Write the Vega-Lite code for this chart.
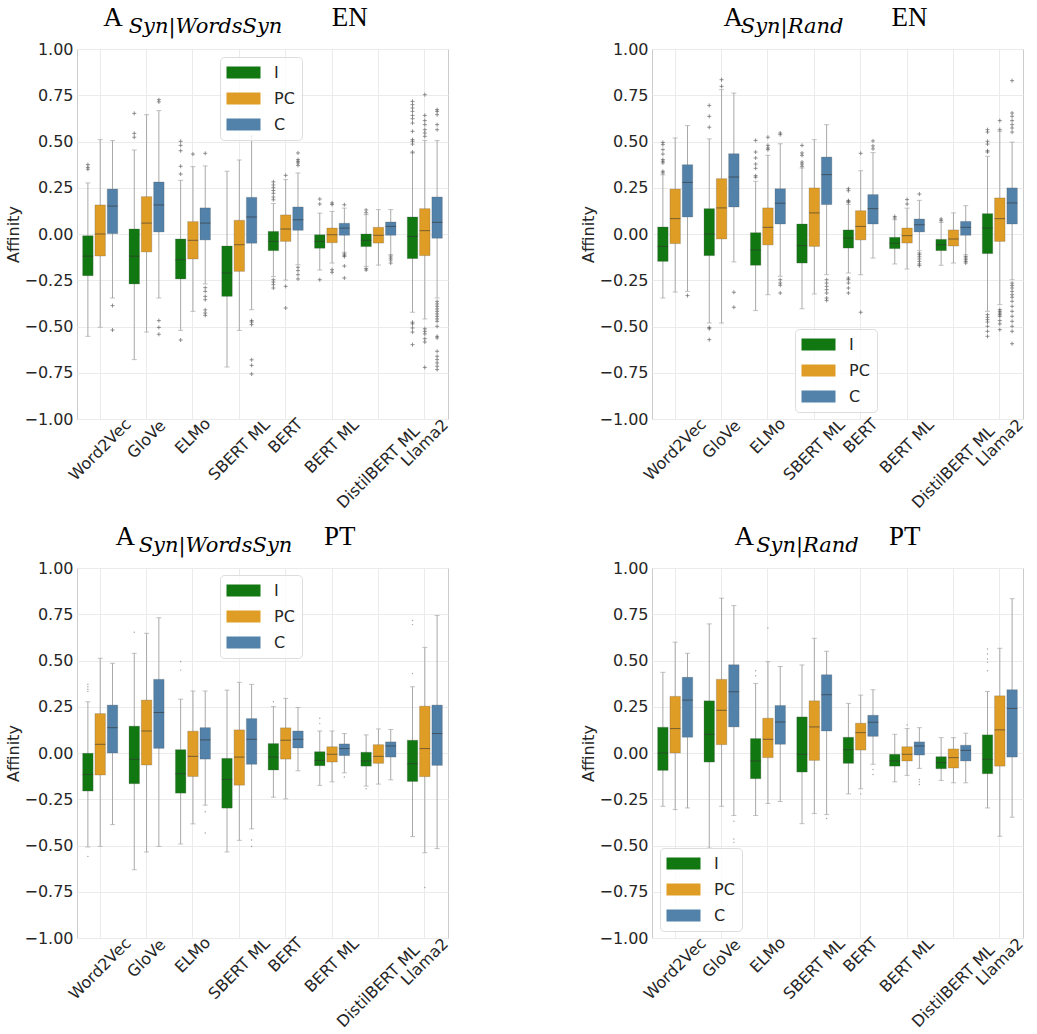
{
"$schema": "https://vega.github.io/schema/vega-lite/v6.json",
"padding": {"left": 5, "top": 3, "right": 0, "bottom": 0},
"background": "white",
"columns": 2,
"spacing": {"row": 10, "column": 128},
"resolve": {"scale": {"color": "independent"}, "legend": {"color": "independent"}},
"datasets": {
"boxes": [
{"panel":"EN_WS","model":"Word2Vec","group":"I","lo":-0.553,"q1":-0.225,"med":-0.12,"q3":-0.009,"hi":0.276},
{"panel":"EN_WS","model":"Word2Vec","group":"PC","lo":-0.504,"q1":-0.119,"med":0.0,"q3":0.157,"hi":0.51},
{"panel":"EN_WS","model":"Word2Vec","group":"C","lo":-0.346,"q1":0.002,"med":0.151,"q3":0.243,"hi":0.505},
{"panel":"EN_WS","model":"GloVe","group":"I","lo":-0.679,"q1":-0.27,"med":-0.12,"q3":0.027,"hi":0.454},
{"panel":"EN_WS","model":"GloVe","group":"PC","lo":-0.53,"q1":-0.097,"med":0.059,"q3":0.202,"hi":0.645},
{"panel":"EN_WS","model":"GloVe","group":"C","lo":-0.346,"q1":0.011,"med":0.157,"q3":0.281,"hi":0.667},
{"panel":"EN_WS","model":"ELMo","group":"I","lo":-0.521,"q1":-0.243,"med":-0.139,"q3":-0.027,"hi":0.29},
{"panel":"EN_WS","model":"ELMo","group":"PC","lo":-0.418,"q1":-0.135,"med":-0.034,"q3":0.067,"hi":0.364},
{"panel":"EN_WS","model":"ELMo","group":"C","lo":-0.27,"q1":-0.032,"med":0.059,"q3":0.141,"hi":0.368},
{"panel":"EN_WS","model":"SBERT ML","group":"I","lo":-0.719,"q1":-0.337,"med":-0.211,"q3":-0.065,"hi":0.339},
{"panel":"EN_WS","model":"SBERT ML","group":"PC","lo":-0.521,"q1":-0.202,"med":-0.058,"q3":0.074,"hi":0.4},
{"panel":"EN_WS","model":"SBERT ML","group":"C","lo":-0.409,"q1":-0.05,"med":0.092,"q3":0.198,"hi":0.53},
{"panel":"EN_WS","model":"BERT","group":"I","lo":-0.23,"q1":-0.09,"med":-0.04,"q3":0.014,"hi":0.165},
{"panel":"EN_WS","model":"BERT","group":"PC","lo":-0.249,"q1":-0.04,"med":0.027,"q3":0.103,"hi":0.294},
{"panel":"EN_WS","model":"BERT","group":"C","lo":-0.166,"q1":0.02,"med":0.077,"q3":0.146,"hi":0.33},
{"panel":"EN_WS","model":"BERT ML","group":"I","lo":-0.195,"q1":-0.077,"med":-0.04,"q3":-0.004,"hi":0.113},
{"panel":"EN_WS","model":"BERT ML","group":"PC","lo":-0.157,"q1":-0.047,"med":-0.004,"q3":0.032,"hi":0.122},
{"panel":"EN_WS","model":"BERT ML","group":"C","lo":-0.099,"q1":-0.007,"med":0.032,"q3":0.058,"hi":0.14},
{"panel":"EN_WS","model":"DistilBERT ML","group":"I","lo":-0.175,"q1":-0.068,"med":-0.034,"q3":0.0,"hi":0.105},
{"panel":"EN_WS","model":"DistilBERT ML","group":"PC","lo":-0.168,"q1":-0.049,"med":-0.007,"q3":0.036,"hi":0.132},
{"panel":"EN_WS","model":"DistilBERT ML","group":"C","lo":-0.112,"q1":-0.007,"med":0.041,"q3":0.065,"hi":0.132},
{"panel":"EN_WS","model":"Llama2","group":"I","lo":-0.423,"q1":-0.133,"med":-0.013,"q3":0.092,"hi":0.438},
{"panel":"EN_WS","model":"Llama2","group":"PC","lo":-0.459,"q1":-0.117,"med":0.018,"q3":0.137,"hi":0.506},
{"panel":"EN_WS","model":"Llama2","group":"C","lo":-0.346,"q1":-0.023,"med":0.063,"q3":0.2,"hi":0.505},

{"panel":"EN_R","model":"Word2Vec","group":"I","lo":-0.346,"q1":-0.148,"med":-0.067,"q3":0.038,"hi":0.32},
{"panel":"EN_R","model":"Word2Vec","group":"PC","lo":-0.314,"q1":-0.052,"med":0.083,"q3":0.243,"hi":0.519},
{"panel":"EN_R","model":"Word2Vec","group":"C","lo":-0.31,"q1":0.092,"med":0.279,"q3":0.375,"hi":0.586},
{"panel":"EN_R","model":"GloVe","group":"I","lo":-0.481,"q1":-0.117,"med":0.0,"q3":0.137,"hi":0.514},
{"panel":"EN_R","model":"GloVe","group":"PC","lo":-0.481,"q1":-0.027,"med":0.141,"q3":0.299,"hi":0.78},
{"panel":"EN_R","model":"GloVe","group":"C","lo":-0.151,"q1":0.146,"med":0.308,"q3":0.434,"hi":0.762},
{"panel":"EN_R","model":"ELMo","group":"I","lo":-0.414,"q1":-0.169,"med":-0.086,"q3":0.007,"hi":0.285},
{"panel":"EN_R","model":"ELMo","group":"PC","lo":-0.328,"q1":-0.059,"med":0.036,"q3":0.141,"hi":0.425},
{"panel":"EN_R","model":"ELMo","group":"C","lo":-0.229,"q1":0.054,"med":0.166,"q3":0.245,"hi":0.488},
{"panel":"EN_R","model":"SBERT ML","group":"I","lo":-0.404,"q1":-0.157,"med":-0.063,"q3":0.054,"hi":0.357},
{"panel":"EN_R","model":"SBERT ML","group":"PC","lo":-0.324,"q1":-0.067,"med":0.114,"q3":0.249,"hi":0.51},
{"panel":"EN_R","model":"SBERT ML","group":"C","lo":-0.22,"q1":0.159,"med":0.321,"q3":0.416,"hi":0.591},
{"panel":"EN_R","model":"BERT","group":"I","lo":-0.211,"q1":-0.076,"med":-0.022,"q3":0.022,"hi":0.16},
{"panel":"EN_R","model":"BERT","group":"PC","lo":-0.22,"q1":-0.032,"med":0.041,"q3":0.126,"hi":0.342},
{"panel":"EN_R","model":"BERT","group":"C","lo":-0.13,"q1":0.054,"med":0.137,"q3":0.213,"hi":0.44},
{"panel":"EN_R","model":"BERT ML","group":"I","lo":-0.162,"q1":-0.079,"med":-0.05,"q3":-0.018,"hi":0.077},
{"panel":"EN_R","model":"BERT ML","group":"PC","lo":-0.189,"q1":-0.049,"med":-0.009,"q3":0.032,"hi":0.14},
{"panel":"EN_R","model":"BERT ML","group":"C","lo":-0.09,"q1":0.011,"med":0.05,"q3":0.081,"hi":0.182},
{"panel":"EN_R","model":"DistilBERT ML","group":"I","lo":-0.169,"q1":-0.09,"med":-0.058,"q3":-0.029,"hi":0.063},
{"panel":"EN_R","model":"DistilBERT ML","group":"PC","lo":-0.157,"q1":-0.065,"med":-0.027,"q3":0.022,"hi":0.114},
{"panel":"EN_R","model":"DistilBERT ML","group":"C","lo":-0.112,"q1":-0.007,"med":0.036,"q3":0.068,"hi":0.153},
{"panel":"EN_R","model":"Llama2","group":"I","lo":-0.418,"q1":-0.106,"med":0.032,"q3":0.11,"hi":0.42},
{"panel":"EN_R","model":"Llama2","group":"PC","lo":-0.382,"q1":-0.04,"med":0.083,"q3":0.195,"hi":0.555},
{"panel":"EN_R","model":"Llama2","group":"C","lo":-0.247,"q1":0.054,"med":0.168,"q3":0.249,"hi":0.497},

{"panel":"PT_WS","model":"Word2Vec","group":"I","lo":-0.508,"q1":-0.206,"med":-0.116,"q3":-0.002,"hi":0.277},
{"panel":"PT_WS","model":"Word2Vec","group":"PC","lo":-0.505,"q1":-0.119,"med":0.047,"q3":0.213,"hi":0.512},
{"panel":"PT_WS","model":"Word2Vec","group":"C","lo":-0.387,"q1":0.0,"med":0.137,"q3":0.259,"hi":0.485},
{"panel":"PT_WS","model":"GloVe","group":"I","lo":-0.631,"q1":-0.166,"med":-0.034,"q3":0.145,"hi":0.539},
{"panel":"PT_WS","model":"GloVe","group":"PC","lo":-0.535,"q1":-0.065,"med":0.119,"q3":0.286,"hi":0.647},
{"panel":"PT_WS","model":"GloVe","group":"C","lo":-0.505,"q1":0.025,"med":0.219,"q3":0.398,"hi":0.731},
{"panel":"PT_WS","model":"ELMo","group":"I","lo":-0.492,"q1":-0.217,"med":-0.112,"q3":0.018,"hi":0.291},
{"panel":"PT_WS","model":"ELMo","group":"PC","lo":-0.383,"q1":-0.127,"med":-0.018,"q3":0.118,"hi":0.335},
{"panel":"PT_WS","model":"ELMo","group":"C","lo":-0.282,"q1":-0.033,"med":0.071,"q3":0.137,"hi":0.335},
{"panel":"PT_WS","model":"SBERT ML","group":"I","lo":-0.535,"q1":-0.298,"med":-0.143,"q3":-0.029,"hi":0.34},
{"panel":"PT_WS","model":"SBERT ML","group":"PC","lo":-0.472,"q1":-0.174,"med":-0.022,"q3":0.125,"hi":0.382},
{"panel":"PT_WS","model":"SBERT ML","group":"C","lo":-0.41,"q1":-0.061,"med":0.074,"q3":0.186,"hi":0.371},
{"panel":"PT_WS","model":"BERT","group":"I","lo":-0.239,"q1":-0.092,"med":-0.022,"q3":0.051,"hi":0.251},
{"panel":"PT_WS","model":"BERT","group":"PC","lo":-0.248,"q1":-0.033,"med":0.069,"q3":0.136,"hi":0.295},
{"panel":"PT_WS","model":"BERT","group":"C","lo":-0.096,"q1":0.027,"med":0.074,"q3":0.119,"hi":0.246},
{"panel":"PT_WS","model":"BERT ML","group":"I","lo":-0.175,"q1":-0.069,"med":-0.04,"q3":0.007,"hi":0.119},
{"panel":"PT_WS","model":"BERT ML","group":"PC","lo":-0.156,"q1":-0.049,"med":-0.007,"q3":0.034,"hi":0.119},
{"panel":"PT_WS","model":"BERT ML","group":"C","lo":-0.107,"q1":-0.014,"med":0.024,"q3":0.049,"hi":0.105},
{"panel":"PT_WS","model":"DistilBERT ML","group":"I","lo":-0.179,"q1":-0.071,"med":-0.043,"q3":0.004,"hi":0.098},
{"panel":"PT_WS","model":"DistilBERT ML","group":"PC","lo":-0.168,"q1":-0.056,"med":-0.018,"q3":0.045,"hi":0.13},
{"panel":"PT_WS","model":"DistilBERT ML","group":"C","lo":-0.145,"q1":-0.022,"med":0.038,"q3":0.06,"hi":0.127},
{"panel":"PT_WS","model":"Llama2","group":"I","lo":-0.452,"q1":-0.154,"med":-0.058,"q3":0.069,"hi":0.358},
{"panel":"PT_WS","model":"Llama2","group":"PC","lo":-0.539,"q1":-0.128,"med":0.024,"q3":0.253,"hi":0.571},
{"panel":"PT_WS","model":"Llama2","group":"C","lo":-0.517,"q1":-0.067,"med":0.105,"q3":0.259,"hi":0.743},

{"panel":"PT_R","model":"Word2Vec","group":"I","lo":-0.288,"q1":-0.094,"med":0.0,"q3":0.139,"hi":0.436},
{"panel":"PT_R","model":"Word2Vec","group":"PC","lo":-0.306,"q1":0.0,"med":0.132,"q3":0.306,"hi":0.599},
{"panel":"PT_R","model":"Word2Vec","group":"C","lo":-0.297,"q1":0.085,"med":0.286,"q3":0.409,"hi":0.539},
{"panel":"PT_R","model":"GloVe","group":"I","lo":-0.514,"q1":-0.049,"med":0.101,"q3":0.282,"hi":0.698},
{"panel":"PT_R","model":"GloVe","group":"PC","lo":-0.288,"q1":0.045,"med":0.231,"q3":0.398,"hi":0.837},
{"panel":"PT_R","model":"GloVe","group":"C","lo":-0.338,"q1":0.141,"med":0.331,"q3":0.477,"hi":0.797},
{"panel":"PT_R","model":"ELMo","group":"I","lo":-0.338,"q1":-0.139,"med":-0.043,"q3":0.078,"hi":0.376},
{"panel":"PT_R","model":"ELMo","group":"PC","lo":-0.273,"q1":-0.025,"med":0.074,"q3":0.188,"hi":0.494},
{"panel":"PT_R","model":"ELMo","group":"C","lo":-0.262,"q1":0.047,"med":0.168,"q3":0.257,"hi":0.468},
{"panel":"PT_R","model":"SBERT ML","group":"I","lo":-0.382,"q1":-0.103,"med":-0.007,"q3":0.195,"hi":0.476},
{"panel":"PT_R","model":"SBERT ML","group":"PC","lo":-0.327,"q1":-0.04,"med":0.141,"q3":0.282,"hi":0.62},
{"panel":"PT_R","model":"SBERT ML","group":"C","lo":-0.333,"q1":0.119,"med":0.315,"q3":0.423,"hi":0.55},
{"panel":"PT_R","model":"BERT","group":"I","lo":-0.221,"q1":-0.056,"med":0.018,"q3":0.085,"hi":0.268},
{"panel":"PT_R","model":"BERT","group":"PC","lo":-0.193,"q1":0.016,"med":0.11,"q3":0.161,"hi":0.313},
{"panel":"PT_R","model":"BERT","group":"C","lo":-0.061,"q1":0.09,"med":0.166,"q3":0.204,"hi":0.342},
{"panel":"PT_R","model":"BERT ML","group":"I","lo":-0.156,"q1":-0.071,"med":-0.043,"q3":-0.007,"hi":0.101},
{"panel":"PT_R","model":"BERT ML","group":"PC","lo":-0.121,"q1":-0.043,"med":-0.007,"q3":0.034,"hi":0.132},
{"panel":"PT_R","model":"BERT ML","group":"C","lo":-0.083,"q1":-0.011,"med":0.038,"q3":0.06,"hi":0.137},
{"panel":"PT_R","model":"DistilBERT ML","group":"I","lo":-0.148,"q1":-0.085,"med":-0.052,"q3":-0.02,"hi":0.083},
{"panel":"PT_R","model":"DistilBERT ML","group":"PC","lo":-0.161,"q1":-0.081,"med":-0.025,"q3":0.022,"hi":0.083},
{"panel":"PT_R","model":"DistilBERT ML","group":"C","lo":-0.161,"q1":-0.043,"med":0.014,"q3":0.042,"hi":0.107},
{"panel":"PT_R","model":"Llama2","group":"I","lo":-0.297,"q1":-0.112,"med":-0.034,"q3":0.098,"hi":0.333},
{"panel":"PT_R","model":"Llama2","group":"PC","lo":-0.45,"q1":-0.071,"med":0.125,"q3":0.309,"hi":0.566},
{"panel":"PT_R","model":"Llama2","group":"C","lo":-0.347,"q1":-0.022,"med":0.241,"q3":0.342,"hi":0.834}
],
"outliers": [
{"panel":"EN_WS","model":"Word2Vec","group":"I","value":0.375},{"panel":"EN_WS","model":"Word2Vec","group":"I","value":0.36},{"panel":"EN_WS","model":"Word2Vec","group":"I","value":0.35},
{"panel":"EN_WS","model":"Word2Vec","group":"C","value":-0.387},{"panel":"EN_WS","model":"Word2Vec","group":"C","value":-0.519},
{"panel":"EN_WS","model":"GloVe","group":"I","value":0.652},{"panel":"EN_WS","model":"GloVe","group":"I","value":0.544},{"panel":"EN_WS","model":"GloVe","group":"I","value":0.523},
{"panel":"EN_WS","model":"GloVe","group":"C","value":0.726},{"panel":"EN_WS","model":"GloVe","group":"C","value":0.714},{"panel":"EN_WS","model":"GloVe","group":"C","value":-0.468},{"panel":"EN_WS","model":"GloVe","group":"C","value":-0.505},{"panel":"EN_WS","model":"GloVe","group":"C","value":-0.542},
{"panel":"EN_WS","model":"ELMo","group":"I","value":0.501},{"panel":"EN_WS","model":"ELMo","group":"I","value":0.479},{"panel":"EN_WS","model":"ELMo","group":"I","value":0.45},{"panel":"EN_WS","model":"ELMo","group":"I","value":0.366},{"panel":"EN_WS","model":"ELMo","group":"I","value":0.324},{"panel":"EN_WS","model":"ELMo","group":"I","value":-0.573},
{"panel":"EN_WS","model":"ELMo","group":"PC","value":0.432},
{"panel":"EN_WS","model":"ELMo","group":"C","value":0.436},{"panel":"EN_WS","model":"ELMo","group":"C","value":-0.29},{"panel":"EN_WS","model":"ELMo","group":"C","value":-0.31},{"panel":"EN_WS","model":"ELMo","group":"C","value":-0.337},{"panel":"EN_WS","model":"ELMo","group":"C","value":-0.355},{"panel":"EN_WS","model":"ELMo","group":"C","value":-0.41},{"panel":"EN_WS","model":"ELMo","group":"C","value":-0.427},{"panel":"EN_WS","model":"ELMo","group":"C","value":-0.44},
{"panel":"EN_WS","model":"SBERT ML","group":"C","value":-0.468},{"panel":"EN_WS","model":"SBERT ML","group":"C","value":-0.476},{"panel":"EN_WS","model":"SBERT ML","group":"C","value":-0.49},{"panel":"EN_WS","model":"SBERT ML","group":"C","value":-0.68},{"panel":"EN_WS","model":"SBERT ML","group":"C","value":-0.71},{"panel":"EN_WS","model":"SBERT ML","group":"C","value":-0.757},
{"panel":"EN_WS","model":"BERT","group":"I","value":0.282},{"panel":"EN_WS","model":"BERT","group":"I","value":0.265},{"panel":"EN_WS","model":"BERT","group":"I","value":0.25},{"panel":"EN_WS","model":"BERT","group":"I","value":0.235},{"panel":"EN_WS","model":"BERT","group":"I","value":0.22},{"panel":"EN_WS","model":"BERT","group":"I","value":0.2},{"panel":"EN_WS","model":"BERT","group":"I","value":0.185},{"panel":"EN_WS","model":"BERT","group":"I","value":-0.247},{"panel":"EN_WS","model":"BERT","group":"I","value":-0.26},{"panel":"EN_WS","model":"BERT","group":"I","value":-0.274},{"panel":"EN_WS","model":"BERT","group":"I","value":-0.292},
{"panel":"EN_WS","model":"BERT","group":"PC","value":0.317},{"panel":"EN_WS","model":"BERT","group":"PC","value":-0.283},{"panel":"EN_WS","model":"BERT","group":"PC","value":-0.4},
{"panel":"EN_WS","model":"BERT","group":"C","value":0.438},{"panel":"EN_WS","model":"BERT","group":"C","value":0.402},{"panel":"EN_WS","model":"BERT","group":"C","value":0.393},{"panel":"EN_WS","model":"BERT","group":"C","value":0.384},{"panel":"EN_WS","model":"BERT","group":"C","value":0.371},{"panel":"EN_WS","model":"BERT","group":"C","value":-0.18},{"panel":"EN_WS","model":"BERT","group":"C","value":-0.198},{"panel":"EN_WS","model":"BERT","group":"C","value":-0.22},{"panel":"EN_WS","model":"BERT","group":"C","value":-0.243},
{"panel":"EN_WS","model":"BERT ML","group":"I","value":0.189},{"panel":"EN_WS","model":"BERT ML","group":"I","value":0.162},{"panel":"EN_WS","model":"BERT ML","group":"I","value":-0.247},
{"panel":"EN_WS","model":"BERT ML","group":"PC","value":0.168},{"panel":"EN_WS","model":"BERT ML","group":"PC","value":0.159},{"panel":"EN_WS","model":"BERT ML","group":"PC","value":-0.193},{"panel":"EN_WS","model":"BERT ML","group":"PC","value":-0.207},
{"panel":"EN_WS","model":"BERT ML","group":"C","value":0.158},{"panel":"EN_WS","model":"BERT ML","group":"C","value":-0.108},{"panel":"EN_WS","model":"BERT ML","group":"C","value":-0.115},{"panel":"EN_WS","model":"BERT ML","group":"C","value":-0.122},{"panel":"EN_WS","model":"BERT ML","group":"C","value":-0.173},{"panel":"EN_WS","model":"BERT ML","group":"C","value":-0.238},
{"panel":"EN_WS","model":"DistilBERT ML","group":"I","value":0.13},{"panel":"EN_WS","model":"DistilBERT ML","group":"I","value":0.115},{"panel":"EN_WS","model":"DistilBERT ML","group":"I","value":-0.187},{"panel":"EN_WS","model":"DistilBERT ML","group":"I","value":-0.195},
{"panel":"EN_WS","model":"DistilBERT ML","group":"C","value":-0.119},{"panel":"EN_WS","model":"DistilBERT ML","group":"C","value":-0.13},{"panel":"EN_WS","model":"DistilBERT ML","group":"C","value":-0.141},{"panel":"EN_WS","model":"DistilBERT ML","group":"C","value":-0.157},
{"panel":"EN_WS","model":"Llama2","group":"I","value":0.717},{"panel":"EN_WS","model":"Llama2","group":"I","value":0.699},{"panel":"EN_WS","model":"Llama2","group":"I","value":0.681},{"panel":"EN_WS","model":"Llama2","group":"I","value":0.663},{"panel":"EN_WS","model":"Llama2","group":"I","value":0.641},{"panel":"EN_WS","model":"Llama2","group":"I","value":0.623},{"panel":"EN_WS","model":"Llama2","group":"I","value":0.6},{"panel":"EN_WS","model":"Llama2","group":"I","value":0.555},{"panel":"EN_WS","model":"Llama2","group":"I","value":0.51},{"panel":"EN_WS","model":"Llama2","group":"I","value":0.501},{"panel":"EN_WS","model":"Llama2","group":"I","value":0.486},{"panel":"EN_WS","model":"Llama2","group":"I","value":0.443},{"panel":"EN_WS","model":"Llama2","group":"I","value":-0.477},{"panel":"EN_WS","model":"Llama2","group":"I","value":-0.486},{"panel":"EN_WS","model":"Llama2","group":"I","value":-0.508},{"panel":"EN_WS","model":"Llama2","group":"I","value":-0.53},{"panel":"EN_WS","model":"Llama2","group":"I","value":-0.598},
{"panel":"EN_WS","model":"Llama2","group":"PC","value":0.753},{"panel":"EN_WS","model":"Llama2","group":"PC","value":0.641},{"panel":"EN_WS","model":"Llama2","group":"PC","value":0.613},{"panel":"EN_WS","model":"Llama2","group":"PC","value":0.591},{"panel":"EN_WS","model":"Llama2","group":"PC","value":0.564},{"panel":"EN_WS","model":"Llama2","group":"PC","value":0.546},{"panel":"EN_WS","model":"Llama2","group":"PC","value":0.528},{"panel":"EN_WS","model":"Llama2","group":"PC","value":-0.512},{"panel":"EN_WS","model":"Llama2","group":"PC","value":-0.526},{"panel":"EN_WS","model":"Llama2","group":"PC","value":-0.54},{"panel":"EN_WS","model":"Llama2","group":"PC","value":-0.566},{"panel":"EN_WS","model":"Llama2","group":"PC","value":-0.584},{"panel":"EN_WS","model":"Llama2","group":"PC","value":-0.721},
{"panel":"EN_WS","model":"Llama2","group":"C","value":0.672},{"panel":"EN_WS","model":"Llama2","group":"C","value":0.663},{"panel":"EN_WS","model":"Llama2","group":"C","value":0.645},{"panel":"EN_WS","model":"Llama2","group":"C","value":0.591},{"panel":"EN_WS","model":"Llama2","group":"C","value":0.564},{"panel":"EN_WS","model":"Llama2","group":"C","value":-0.364},{"panel":"EN_WS","model":"Llama2","group":"C","value":-0.378},{"panel":"EN_WS","model":"Llama2","group":"C","value":-0.391},{"panel":"EN_WS","model":"Llama2","group":"C","value":-0.405},{"panel":"EN_WS","model":"Llama2","group":"C","value":-0.418},{"panel":"EN_WS","model":"Llama2","group":"C","value":-0.432},{"panel":"EN_WS","model":"Llama2","group":"C","value":-0.445},{"panel":"EN_WS","model":"Llama2","group":"C","value":-0.459},{"panel":"EN_WS","model":"Llama2","group":"C","value":-0.472},{"panel":"EN_WS","model":"Llama2","group":"C","value":-0.499},{"panel":"EN_WS","model":"Llama2","group":"C","value":-0.553},{"panel":"EN_WS","model":"Llama2","group":"C","value":-0.562},{"panel":"EN_WS","model":"Llama2","group":"C","value":-0.634},{"panel":"EN_WS","model":"Llama2","group":"C","value":-0.661},{"panel":"EN_WS","model":"Llama2","group":"C","value":-0.679},{"panel":"EN_WS","model":"Llama2","group":"C","value":-0.697},{"panel":"EN_WS","model":"Llama2","group":"C","value":-0.715},{"panel":"EN_WS","model":"Llama2","group":"C","value":-0.733},

{"panel":"EN_R","model":"Word2Vec","group":"I","value":0.495},{"panel":"EN_R","model":"Word2Vec","group":"I","value":0.483},{"panel":"EN_R","model":"Word2Vec","group":"I","value":0.456},{"panel":"EN_R","model":"Word2Vec","group":"I","value":0.432},{"panel":"EN_R","model":"Word2Vec","group":"I","value":0.402},{"panel":"EN_R","model":"Word2Vec","group":"I","value":0.393},{"panel":"EN_R","model":"Word2Vec","group":"I","value":0.384},{"panel":"EN_R","model":"Word2Vec","group":"I","value":0.339},{"panel":"EN_R","model":"Word2Vec","group":"I","value":0.33},
{"panel":"EN_R","model":"Word2Vec","group":"C","value":-0.333},
{"panel":"EN_R","model":"GloVe","group":"I","value":0.695},{"panel":"EN_R","model":"GloVe","group":"I","value":0.636},{"panel":"EN_R","model":"GloVe","group":"I","value":0.577},{"panel":"EN_R","model":"GloVe","group":"I","value":-0.505},{"panel":"EN_R","model":"GloVe","group":"I","value":-0.512},{"panel":"EN_R","model":"GloVe","group":"I","value":-0.571},
{"panel":"EN_R","model":"GloVe","group":"PC","value":0.834},{"panel":"EN_R","model":"GloVe","group":"PC","value":0.798},
{"panel":"EN_R","model":"GloVe","group":"C","value":-0.315},{"panel":"EN_R","model":"GloVe","group":"C","value":-0.396},
{"panel":"EN_R","model":"ELMo","group":"I","value":0.506},{"panel":"EN_R","model":"ELMo","group":"I","value":0.443},{"panel":"EN_R","model":"ELMo","group":"I","value":0.411},{"panel":"EN_R","model":"ELMo","group":"I","value":0.378},{"panel":"EN_R","model":"ELMo","group":"I","value":0.355},{"panel":"EN_R","model":"ELMo","group":"I","value":0.315},{"panel":"EN_R","model":"ELMo","group":"I","value":0.307},
{"panel":"EN_R","model":"ELMo","group":"PC","value":0.523},{"panel":"EN_R","model":"ELMo","group":"PC","value":0.479},{"panel":"EN_R","model":"ELMo","group":"PC","value":0.465},{"panel":"EN_R","model":"ELMo","group":"PC","value":0.456},
{"panel":"EN_R","model":"ELMo","group":"C","value":0.546},{"panel":"EN_R","model":"ELMo","group":"C","value":0.537},{"panel":"EN_R","model":"ELMo","group":"C","value":-0.247},{"panel":"EN_R","model":"ELMo","group":"C","value":-0.265},{"panel":"EN_R","model":"ELMo","group":"C","value":-0.277},{"panel":"EN_R","model":"ELMo","group":"C","value":-0.319},
{"panel":"EN_R","model":"SBERT ML","group":"I","value":0.479},{"panel":"EN_R","model":"SBERT ML","group":"I","value":0.438},{"panel":"EN_R","model":"SBERT ML","group":"I","value":0.425},{"panel":"EN_R","model":"SBERT ML","group":"I","value":0.389},{"panel":"EN_R","model":"SBERT ML","group":"I","value":0.378},{"panel":"EN_R","model":"SBERT ML","group":"I","value":0.366},
{"panel":"EN_R","model":"SBERT ML","group":"C","value":-0.247},{"panel":"EN_R","model":"SBERT ML","group":"C","value":-0.265},{"panel":"EN_R","model":"SBERT ML","group":"C","value":-0.283},{"panel":"EN_R","model":"SBERT ML","group":"C","value":-0.301},{"panel":"EN_R","model":"SBERT ML","group":"C","value":-0.319},{"panel":"EN_R","model":"SBERT ML","group":"C","value":-0.346},{"panel":"EN_R","model":"SBERT ML","group":"C","value":-0.359},
{"panel":"EN_R","model":"BERT","group":"I","value":0.245},{"panel":"EN_R","model":"BERT","group":"I","value":0.234},{"panel":"EN_R","model":"BERT","group":"I","value":0.18},{"panel":"EN_R","model":"BERT","group":"I","value":0.177},{"panel":"EN_R","model":"BERT","group":"I","value":0.171},{"panel":"EN_R","model":"BERT","group":"I","value":-0.238},{"panel":"EN_R","model":"BERT","group":"I","value":-0.247},{"panel":"EN_R","model":"BERT","group":"I","value":-0.265},{"panel":"EN_R","model":"BERT","group":"I","value":-0.292},{"panel":"EN_R","model":"BERT","group":"I","value":-0.319},
{"panel":"EN_R","model":"BERT","group":"PC","value":0.436},{"panel":"EN_R","model":"BERT","group":"PC","value":-0.423},
{"panel":"EN_R","model":"BERT","group":"C","value":0.503},{"panel":"EN_R","model":"BERT","group":"C","value":0.476},{"panel":"EN_R","model":"BERT","group":"C","value":0.46},
{"panel":"EN_R","model":"BERT ML","group":"I","value":0.095},{"panel":"EN_R","model":"BERT ML","group":"I","value":0.086},
{"panel":"EN_R","model":"BERT ML","group":"PC","value":0.186},{"panel":"EN_R","model":"BERT ML","group":"PC","value":0.162},
{"panel":"EN_R","model":"BERT ML","group":"C","value":0.216},{"panel":"EN_R","model":"BERT ML","group":"C","value":-0.103},{"panel":"EN_R","model":"BERT ML","group":"C","value":-0.112},{"panel":"EN_R","model":"BERT ML","group":"C","value":-0.123},{"panel":"EN_R","model":"BERT ML","group":"C","value":-0.135},{"panel":"EN_R","model":"BERT ML","group":"C","value":-0.148},{"panel":"EN_R","model":"BERT ML","group":"C","value":-0.162},{"panel":"EN_R","model":"BERT ML","group":"C","value":-0.171},
{"panel":"EN_R","model":"DistilBERT ML","group":"I","value":0.081},{"panel":"EN_R","model":"DistilBERT ML","group":"I","value":0.072},
{"panel":"EN_R","model":"DistilBERT ML","group":"C","value":-0.121},{"panel":"EN_R","model":"DistilBERT ML","group":"C","value":-0.13},{"panel":"EN_R","model":"DistilBERT ML","group":"C","value":-0.139},{"panel":"EN_R","model":"DistilBERT ML","group":"C","value":-0.148},{"panel":"EN_R","model":"DistilBERT ML","group":"C","value":-0.157},
{"panel":"EN_R","model":"Llama2","group":"I","value":0.564},{"panel":"EN_R","model":"Llama2","group":"I","value":0.551},{"panel":"EN_R","model":"Llama2","group":"I","value":0.501},{"panel":"EN_R","model":"Llama2","group":"I","value":0.486},{"panel":"EN_R","model":"Llama2","group":"I","value":0.45},{"panel":"EN_R","model":"Llama2","group":"I","value":0.443},{"panel":"EN_R","model":"Llama2","group":"I","value":-0.436},{"panel":"EN_R","model":"Llama2","group":"I","value":-0.45},{"panel":"EN_R","model":"Llama2","group":"I","value":-0.463},{"panel":"EN_R","model":"Llama2","group":"I","value":-0.476},{"panel":"EN_R","model":"Llama2","group":"I","value":-0.499},{"panel":"EN_R","model":"Llama2","group":"I","value":-0.526},{"panel":"EN_R","model":"Llama2","group":"I","value":-0.553},
{"panel":"EN_R","model":"Llama2","group":"PC","value":0.613},{"panel":"EN_R","model":"Llama2","group":"PC","value":0.564},{"panel":"EN_R","model":"Llama2","group":"PC","value":-0.409},{"panel":"EN_R","model":"Llama2","group":"PC","value":-0.418},{"panel":"EN_R","model":"Llama2","group":"PC","value":-0.427},{"panel":"EN_R","model":"Llama2","group":"PC","value":-0.436},{"panel":"EN_R","model":"Llama2","group":"PC","value":-0.445},{"panel":"EN_R","model":"Llama2","group":"PC","value":-0.468},{"panel":"EN_R","model":"Llama2","group":"PC","value":-0.486},{"panel":"EN_R","model":"Llama2","group":"PC","value":-0.517},
{"panel":"EN_R","model":"Llama2","group":"C","value":0.829},{"panel":"EN_R","model":"Llama2","group":"C","value":0.654},{"panel":"EN_R","model":"Llama2","group":"C","value":0.636},{"panel":"EN_R","model":"Llama2","group":"C","value":0.613},{"panel":"EN_R","model":"Llama2","group":"C","value":0.591},{"panel":"EN_R","model":"Llama2","group":"C","value":0.573},{"panel":"EN_R","model":"Llama2","group":"C","value":0.551},{"panel":"EN_R","model":"Llama2","group":"C","value":-0.265},{"panel":"EN_R","model":"Llama2","group":"C","value":-0.278},{"panel":"EN_R","model":"Llama2","group":"C","value":-0.292},{"panel":"EN_R","model":"Llama2","group":"C","value":-0.31},{"panel":"EN_R","model":"Llama2","group":"C","value":-0.328},{"panel":"EN_R","model":"Llama2","group":"C","value":-0.342},{"panel":"EN_R","model":"Llama2","group":"C","value":-0.364},{"panel":"EN_R","model":"Llama2","group":"C","value":-0.391},{"panel":"EN_R","model":"Llama2","group":"C","value":-0.418},{"panel":"EN_R","model":"Llama2","group":"C","value":-0.445},{"panel":"EN_R","model":"Llama2","group":"C","value":-0.472},{"panel":"EN_R","model":"Llama2","group":"C","value":-0.499},{"panel":"EN_R","model":"Llama2","group":"C","value":-0.526},{"panel":"EN_R","model":"Llama2","group":"C","value":-0.593},

{"panel":"PT_WS","model":"Word2Vec","group":"I","value":0.372},{"panel":"PT_WS","model":"Word2Vec","group":"I","value":0.358},{"panel":"PT_WS","model":"Word2Vec","group":"I","value":0.345},{"panel":"PT_WS","model":"Word2Vec","group":"I","value":0.333},{"panel":"PT_WS","model":"Word2Vec","group":"I","value":-0.559},
{"panel":"PT_WS","model":"GloVe","group":"I","value":0.653},
{"panel":"PT_WS","model":"ELMo","group":"I","value":0.495},{"panel":"PT_WS","model":"ELMo","group":"I","value":0.448},
{"panel":"PT_WS","model":"ELMo","group":"C","value":-0.318},{"panel":"PT_WS","model":"ELMo","group":"C","value":-0.432},
{"panel":"PT_WS","model":"SBERT ML","group":"C","value":-0.47},{"panel":"PT_WS","model":"SBERT ML","group":"C","value":-0.505},
{"panel":"PT_WS","model":"BERT","group":"I","value":0.277},
{"panel":"PT_WS","model":"BERT ML","group":"I","value":0.188},{"panel":"PT_WS","model":"BERT ML","group":"I","value":0.159},
{"panel":"PT_WS","model":"BERT ML","group":"C","value":-0.13},
{"panel":"PT_WS","model":"DistilBERT ML","group":"I","value":-0.193},
{"panel":"PT_WS","model":"Llama2","group":"I","value":0.716},{"panel":"PT_WS","model":"Llama2","group":"I","value":0.694},{"panel":"PT_WS","model":"Llama2","group":"I","value":0.43},
{"panel":"PT_WS","model":"Llama2","group":"PC","value":-0.727},

{"panel":"PT_R","model":"GloVe","group":"C","value":-0.369},{"panel":"PT_R","model":"GloVe","group":"C","value":-0.465},{"panel":"PT_R","model":"GloVe","group":"C","value":-0.483},
{"panel":"PT_R","model":"ELMo","group":"I","value":0.445},{"panel":"PT_R","model":"ELMo","group":"I","value":0.418},
{"panel":"PT_R","model":"ELMo","group":"PC","value":0.676},
{"panel":"PT_R","model":"SBERT ML","group":"C","value":-0.354},
{"panel":"PT_R","model":"BERT","group":"PC","value":-0.221},
{"panel":"PT_R","model":"BERT","group":"C","value":-0.089},{"panel":"PT_R","model":"BERT","group":"C","value":-0.116},
{"panel":"PT_R","model":"BERT ML","group":"PC","value":0.152},
{"panel":"PT_R","model":"BERT ML","group":"C","value":-0.143},{"panel":"PT_R","model":"BERT ML","group":"C","value":-0.156},{"panel":"PT_R","model":"BERT ML","group":"C","value":-0.17},
{"panel":"PT_R","model":"Llama2","group":"I","value":0.562},{"panel":"PT_R","model":"Llama2","group":"I","value":0.535},{"panel":"PT_R","model":"Llama2","group":"I","value":0.508},{"panel":"PT_R","model":"Llama2","group":"I","value":0.49},{"panel":"PT_R","model":"Llama2","group":"I","value":0.445}
]
},
"concat": [
{
 "width": 371, "height": 370,
 "title": {"text": "A\u00a0\u00a0\u00a0\u00a0\u00a0\u00a0\u00a0\u00a0\u00a0\u00a0\u00a0\u00a0\u00a0\u00a0\u00a0\u00a0\u00a0\u00a0\u00a0\u00a0\u00a0\u00a0\u00a0\u00a0\u00a0\u00a0\u00a0\u00a0\u00a0\u00a0\u00a0EN", "subtitle": "Syn|WordsSyn\u00a0\u00a0\u00a0\u00a0\u00a0\u00a0\u00a0\u00a0\u00a0\u200b", "dx": -27},
 "encoding": {
  "x": {"field": "model", "type": "nominal", "scale": {"domain": ["Word2Vec","GloVe","ELMo","SBERT ML","BERT","BERT ML","DistilBERT ML","Llama2"], "paddingInner": 0, "paddingOuter": 0}, "axis": {"title": null, "labelAngle": -45, "labelAlign": "center", "labelBaseline": "middle", "labelOverlap": false, "grid": true, "labelPadding": {"expr": "-3 + 0.354*(length(datum.label)*9.8 + 16)"}}},
  "xOffset": {"field": "group", "type": "nominal", "scale": {"domain": ["I","PC","C"], "paddingInner": 0.15, "paddingOuter": 0.46}}
 },
 "layer": [
  {"data": {"name": "boxes"}, "transform": [{"filter": "datum.panel == 'EN_WS'"}], "mark": {"type": "rule", "color": "#a8a8a8", "strokeWidth": 1},
   "encoding": {"y": {"field": "lo", "type": "quantitative", "scale": {"domain": [-1, 1], "nice": false, "zero": false}, "axis": {"title": "Affinity", "values": [-1,-0.75,-0.5,-0.25,0,0.25,0.5,0.75,1], "format": ".2f"}}, "y2": {"field": "hi"}}},
  {"data": {"name": "boxes"}, "transform": [{"filter": "datum.panel == 'EN_WS'"}], "mark": {"type": "tick", "color": "#a8a8a8", "size": 5, "thickness": 1},
   "encoding": {"y": {"field": "lo", "type": "quantitative"}}},
  {"data": {"name": "boxes"}, "transform": [{"filter": "datum.panel == 'EN_WS'"}], "mark": {"type": "tick", "color": "#a8a8a8", "size": 5, "thickness": 1},
   "encoding": {"y": {"field": "hi", "type": "quantitative"}}},
  {"data": {"name": "boxes"}, "transform": [{"filter": "datum.panel == 'EN_WS'"}], "mark": {"type": "bar", "stroke": "#555555", "strokeWidth": 0.5, "strokeOpacity": 0.5},
   "encoding": {"y": {"field": "q1", "type": "quantitative"}, "y2": {"field": "q3"},
    "color": {"field": "group", "type": "nominal", "scale": {"domain": ["I","PC","C"], "range": ["#117711","#E09D25","#5282AA"]}, "legend": {"orient": "none", "legendX": 143, "legendY": 8, "title": null, "symbolType": "M-2,-0.7H2V0.7H-2Z", "symbolSize": 289}}}},
  {"data": {"name": "boxes"}, "transform": [{"filter": "datum.panel == 'EN_WS'"}], "mark": {"type": "tick", "color": "#333333", "opacity": 0.6, "size": 10.5, "thickness": 1},
   "encoding": {"y": {"field": "med", "type": "quantitative"}}},
  {"data": {"name": "outliers"}, "transform": [{"filter": "datum.panel == 'EN_WS'"}], "mark": {"type": "point", "shape": "M-1,0H1M0,-1V1", "size": 16, "filled": false, "stroke": "#555555", "strokeWidth": 0.8, "opacity": 0.8},
   "encoding": {"y": {"field": "value", "type": "quantitative"}}}
 ]
},
{
 "width": 371, "height": 370,
 "title": {"text": "A\u00a0\u00a0\u00a0\u00a0\u00a0\u00a0\u00a0\u00a0\u00a0\u00a0\u00a0\u00a0\u00a0\u00a0\u00a0\u00a0\u00a0\u00a0\u00a0\u00a0\u00a0\u00a0EN", "subtitle": "Syn|Rand\u00a0\u00a0\u00a0\u00a0\u00a0\u00a0\u00a0\u00a0\u00a0\u00a0\u200b", "dx": -12},
 "encoding": {
  "x": {"field": "model", "type": "nominal", "scale": {"domain": ["Word2Vec","GloVe","ELMo","SBERT ML","BERT","BERT ML","DistilBERT ML","Llama2"], "paddingInner": 0, "paddingOuter": 0}, "axis": {"title": null, "labelAngle": -45, "labelAlign": "center", "labelBaseline": "middle", "labelOverlap": false, "grid": true, "labelPadding": {"expr": "-3 + 0.354*(length(datum.label)*9.8 + 16)"}}},
  "xOffset": {"field": "group", "type": "nominal", "scale": {"domain": ["I","PC","C"], "paddingInner": 0.15, "paddingOuter": 0.46}}
 },
 "layer": [
  {"data": {"name": "boxes"}, "transform": [{"filter": "datum.panel == 'EN_R'"}], "mark": {"type": "rule", "color": "#a8a8a8", "strokeWidth": 1},
   "encoding": {"y": {"field": "lo", "type": "quantitative", "scale": {"domain": [-1, 1], "nice": false, "zero": false}, "axis": {"title": "Affinity", "values": [-1,-0.75,-0.5,-0.25,0,0.25,0.5,0.75,1], "format": ".2f"}}, "y2": {"field": "hi"}}},
  {"data": {"name": "boxes"}, "transform": [{"filter": "datum.panel == 'EN_R'"}], "mark": {"type": "tick", "color": "#a8a8a8", "size": 5, "thickness": 1},
   "encoding": {"y": {"field": "lo", "type": "quantitative"}}},
  {"data": {"name": "boxes"}, "transform": [{"filter": "datum.panel == 'EN_R'"}], "mark": {"type": "tick", "color": "#a8a8a8", "size": 5, "thickness": 1},
   "encoding": {"y": {"field": "hi", "type": "quantitative"}}},
  {"data": {"name": "boxes"}, "transform": [{"filter": "datum.panel == 'EN_R'"}], "mark": {"type": "bar", "stroke": "#555555", "strokeWidth": 0.5, "strokeOpacity": 0.5},
   "encoding": {"y": {"field": "q1", "type": "quantitative"}, "y2": {"field": "q3"},
    "color": {"field": "group", "type": "nominal", "scale": {"domain": ["I","PC","C"], "range": ["#117711","#E09D25","#5282AA"]}, "legend": {"orient": "none", "legendX": 143, "legendY": 280, "title": null, "symbolType": "M-2,-0.7H2V0.7H-2Z", "symbolSize": 289}}}},
  {"data": {"name": "boxes"}, "transform": [{"filter": "datum.panel == 'EN_R'"}], "mark": {"type": "tick", "color": "#333333", "opacity": 0.6, "size": 10.5, "thickness": 1},
   "encoding": {"y": {"field": "med", "type": "quantitative"}}},
  {"data": {"name": "outliers"}, "transform": [{"filter": "datum.panel == 'EN_R'"}], "mark": {"type": "point", "shape": "M-1,0H1M0,-1V1", "size": 16, "filled": false, "stroke": "#555555", "strokeWidth": 0.8, "opacity": 0.8},
   "encoding": {"y": {"field": "value", "type": "quantitative"}}}
 ]
},
{
 "width": 371, "height": 370,
 "title": {"text": "A\u00a0\u00a0\u00a0\u00a0\u00a0\u00a0\u00a0\u00a0\u00a0\u00a0\u00a0\u00a0\u00a0\u00a0\u00a0\u00a0\u00a0\u00a0\u00a0\u00a0\u00a0\u00a0\u00a0\u00a0\u00a0\u00a0\u00a0\u00a0PT", "subtitle": "Syn|WordsSyn\u00a0\u00a0\u00a0\u00a0\u00a0\u00a0\u200b", "dx": -27},
 "encoding": {
  "x": {"field": "model", "type": "nominal", "scale": {"domain": ["Word2Vec","GloVe","ELMo","SBERT ML","BERT","BERT ML","DistilBERT ML","Llama2"], "paddingInner": 0, "paddingOuter": 0}, "axis": {"title": null, "labelAngle": -45, "labelAlign": "center", "labelBaseline": "middle", "labelOverlap": false, "grid": true, "labelPadding": {"expr": "-3 + 0.354*(length(datum.label)*9.8 + 16)"}}},
  "xOffset": {"field": "group", "type": "nominal", "scale": {"domain": ["I","PC","C"], "paddingInner": 0.15, "paddingOuter": 0.46}}
 },
 "layer": [
  {"data": {"name": "boxes"}, "transform": [{"filter": "datum.panel == 'PT_WS'"}], "mark": {"type": "rule", "color": "#a8a8a8", "strokeWidth": 1},
   "encoding": {"y": {"field": "lo", "type": "quantitative", "scale": {"domain": [-1, 1], "nice": false, "zero": false}, "axis": {"title": "Affinity", "values": [-1,-0.75,-0.5,-0.25,0,0.25,0.5,0.75,1], "format": ".2f"}}, "y2": {"field": "hi"}}},
  {"data": {"name": "boxes"}, "transform": [{"filter": "datum.panel == 'PT_WS'"}], "mark": {"type": "tick", "color": "#a8a8a8", "size": 5, "thickness": 1},
   "encoding": {"y": {"field": "lo", "type": "quantitative"}}},
  {"data": {"name": "boxes"}, "transform": [{"filter": "datum.panel == 'PT_WS'"}], "mark": {"type": "tick", "color": "#a8a8a8", "size": 5, "thickness": 1},
   "encoding": {"y": {"field": "hi", "type": "quantitative"}}},
  {"data": {"name": "boxes"}, "transform": [{"filter": "datum.panel == 'PT_WS'"}], "mark": {"type": "bar", "stroke": "#555555", "strokeWidth": 0.5, "strokeOpacity": 0.5},
   "encoding": {"y": {"field": "q1", "type": "quantitative"}, "y2": {"field": "q3"},
    "color": {"field": "group", "type": "nominal", "scale": {"domain": ["I","PC","C"], "range": ["#117711","#E09D25","#5282AA"]}, "legend": {"orient": "none", "legendX": 143, "legendY": 7, "title": null, "symbolType": "M-2,-0.7H2V0.7H-2Z", "symbolSize": 289}}}},
  {"data": {"name": "boxes"}, "transform": [{"filter": "datum.panel == 'PT_WS'"}], "mark": {"type": "tick", "color": "#333333", "opacity": 0.6, "size": 10.5, "thickness": 1},
   "encoding": {"y": {"field": "med", "type": "quantitative"}}},
  {"data": {"name": "outliers"}, "transform": [{"filter": "datum.panel == 'PT_WS'"}], "mark": {"type": "point", "shape": "circle", "size": 2, "filled": true, "color": "#777777", "opacity": 0.7},
   "encoding": {"y": {"field": "value", "type": "quantitative"}}}
 ]
},
{
 "width": 371, "height": 370,
 "title": {"text": "A\u00a0\u00a0\u00a0\u00a0\u00a0\u00a0\u00a0\u00a0\u00a0\u00a0\u00a0\u00a0\u00a0\u00a0\u00a0\u00a0\u00a0\u00a0\u00a0\u00a0PT", "subtitle": "Syn|Rand\u00a0\u00a0\u00a0\u00a0\u00a0\u00a0\u200b", "dx": -10},
 "encoding": {
  "x": {"field": "model", "type": "nominal", "scale": {"domain": ["Word2Vec","GloVe","ELMo","SBERT ML","BERT","BERT ML","DistilBERT ML","Llama2"], "paddingInner": 0, "paddingOuter": 0}, "axis": {"title": null, "labelAngle": -45, "labelAlign": "center", "labelBaseline": "middle", "labelOverlap": false, "grid": true, "labelPadding": {"expr": "-3 + 0.354*(length(datum.label)*9.8 + 16)"}}},
  "xOffset": {"field": "group", "type": "nominal", "scale": {"domain": ["I","PC","C"], "paddingInner": 0.15, "paddingOuter": 0.46}}
 },
 "layer": [
  {"data": {"name": "boxes"}, "transform": [{"filter": "datum.panel == 'PT_R'"}], "mark": {"type": "rule", "color": "#a8a8a8", "strokeWidth": 1},
   "encoding": {"y": {"field": "lo", "type": "quantitative", "scale": {"domain": [-1, 1], "nice": false, "zero": false}, "axis": {"title": "Affinity", "values": [-1,-0.75,-0.5,-0.25,0,0.25,0.5,0.75,1], "format": ".2f"}}, "y2": {"field": "hi"}}},
  {"data": {"name": "boxes"}, "transform": [{"filter": "datum.panel == 'PT_R'"}], "mark": {"type": "tick", "color": "#a8a8a8", "size": 5, "thickness": 1},
   "encoding": {"y": {"field": "lo", "type": "quantitative"}}},
  {"data": {"name": "boxes"}, "transform": [{"filter": "datum.panel == 'PT_R'"}], "mark": {"type": "tick", "color": "#a8a8a8", "size": 5, "thickness": 1},
   "encoding": {"y": {"field": "hi", "type": "quantitative"}}},
  {"data": {"name": "boxes"}, "transform": [{"filter": "datum.panel == 'PT_R'"}], "mark": {"type": "bar", "stroke": "#555555", "strokeWidth": 0.5, "strokeOpacity": 0.5},
   "encoding": {"y": {"field": "q1", "type": "quantitative"}, "y2": {"field": "q3"},
    "color": {"field": "group", "type": "nominal", "scale": {"domain": ["I","PC","C"], "range": ["#117711","#E09D25","#5282AA"]}, "legend": {"orient": "none", "legendX": 8, "legendY": 280, "title": null, "symbolType": "M-2,-0.7H2V0.7H-2Z", "symbolSize": 289}}}},
  {"data": {"name": "boxes"}, "transform": [{"filter": "datum.panel == 'PT_R'"}], "mark": {"type": "tick", "color": "#333333", "opacity": 0.6, "size": 10.5, "thickness": 1},
   "encoding": {"y": {"field": "med", "type": "quantitative"}}},
  {"data": {"name": "outliers"}, "transform": [{"filter": "datum.panel == 'PT_R'"}], "mark": {"type": "point", "shape": "circle", "size": 2, "filled": true, "color": "#777777", "opacity": 0.7},
   "encoding": {"y": {"field": "value", "type": "quantitative"}}}
 ]
}
],
"config": {
 "view": {"stroke": "#cccccc", "strokeWidth": 1},
 "font": "DejaVu Sans",
 "axis": {"labelFont": "DejaVu Sans", "labelFontSize": 16, "labelColor": "#262626", "titleFont": "DejaVu Sans", "titleFontSize": 16, "titleFontWeight": "normal", "titleColor": "#262626", "domain": false, "ticks": false, "grid": true, "gridColor": "#ebebeb", "gridWidth": 1, "labelPadding": 4},
 "axisY": {"titlePadding": 2},
 "title": {"font": "Liberation Serif", "fontSize": 27, "fontWeight": "normal", "color": "#000000", "subtitleFont": "DejaVu Serif", "subtitleFontSize": 21, "subtitleFontStyle": "italic", "subtitleColor": "#000000", "subtitlePadding": -16, "anchor": "middle", "frame": "group", "offset": 3},
 "legend": {"labelFont": "DejaVu Sans", "labelFontSize": 16, "labelColor": "#262626", "labelOffset": 22, "symbolOffset": 8, "rowPadding": 9, "padding": 7, "fillColor": "rgba(255,255,255,0.8)", "strokeColor": "#dddddd", "cornerRadius": 4, "symbolStrokeWidth": 0, "symbolOpacity": 1}
}
}
